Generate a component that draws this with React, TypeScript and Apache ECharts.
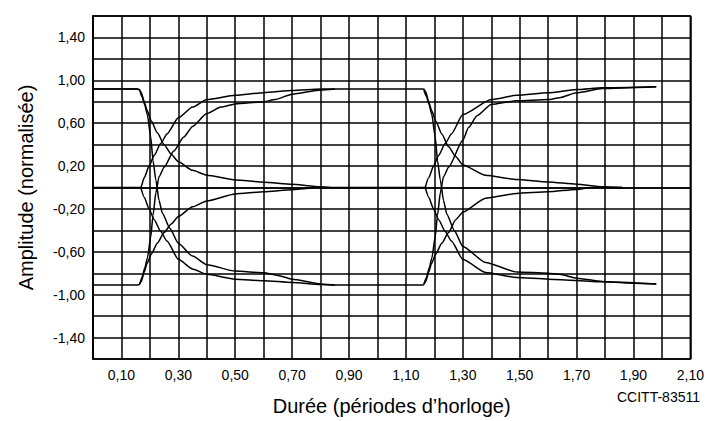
import React, { useEffect, useRef } from "react";
import * as echarts from "echarts";

// Tick labels shown on the axes
const xLabelValues = [0.1, 0.3, 0.5, 0.7, 0.9, 1.1, 1.3, 1.5, 1.7, 1.9, 2.1];
const yLabelValues = [-1.4, -1.0, -0.6, -0.2, 0.2, 0.6, 1.0, 1.4];

// Period 1 transitions (time in clock periods, normalised amplitude)
const fallToZero1: [number, number][] = [
  [0, 0.92], [0.155, 0.92], [0.163, 0.915], [0.17, 0.885], [0.18, 0.8], [0.19, 0.72],
  [0.205, 0.62], [0.226, 0.51], [0.25, 0.4], [0.275, 0.31], [0.3, 0.24], [0.35, 0.16],
  [0.4, 0.115], [0.5, 0.07], [0.6, 0.05], [0.7, 0.03], [0.78, 0.01], [0.85, 0], [1.168, 0],
];
const fallToLow1: [number, number][] = [
  [0, 0.92], [0.155, 0.92], [0.163, 0.91], [0.172, 0.85], [0.182, 0.77], [0.191, 0.68],
  [0.203, 0.47], [0.211, 0.25], [0.221, 0.07], [0.232, -0.12], [0.244, -0.24], [0.27, -0.38],
  [0.3, -0.52], [0.35, -0.64], [0.4, -0.72], [0.5, -0.78], [0.6, -0.795], [0.65, -0.82],
  [0.7, -0.855], [0.8, -0.9], [0.85, -0.91], [1.163, -0.91],
];
const zeroToHigh1: [number, number][] = [
  [0, 0], [0.168, 0], [0.18, 0.09], [0.197, 0.2], [0.215, 0.3], [0.238, 0.41], [0.26, 0.5],
  [0.3, 0.65], [0.35, 0.75], [0.4, 0.82], [0.5, 0.86], [0.6, 0.885], [0.7, 0.905],
  [0.8, 0.92], [1.163, 0.92],
];
const zeroToLow1: [number, number][] = [
  [0.168, 0], [0.18, -0.09], [0.197, -0.2], [0.215, -0.3], [0.238, -0.41], [0.26, -0.5],
  [0.3, -0.67], [0.35, -0.76], [0.4, -0.81], [0.5, -0.855], [0.6, -0.87], [0.7, -0.886],
  [0.8, -0.905], [0.85, -0.91],
];
const lowToHigh1: [number, number][] = [
  [0, -0.91], [0.155, -0.91], [0.163, -0.905], [0.172, -0.84], [0.182, -0.75], [0.191, -0.66],
  [0.203, -0.46], [0.211, -0.26], [0.221, -0.05], [0.232, 0.1], [0.25, 0.19], [0.284, 0.34],
  [0.319, 0.47], [0.35, 0.57], [0.4, 0.69], [0.45, 0.75], [0.5, 0.78], [0.6, 0.8],
  [0.64, 0.82], [0.7, 0.87], [0.8, 0.91], [0.85, 0.92],
];
const lowToZero1: [number, number][] = [
  [0.163, -0.905], [0.17, -0.875], [0.18, -0.79], [0.19, -0.71], [0.205, -0.62], [0.226, -0.52],
  [0.25, -0.42], [0.275, -0.34], [0.3, -0.27], [0.35, -0.18], [0.4, -0.125], [0.5, -0.06],
  [0.6, -0.04], [0.7, -0.02], [0.78, 0.0],
];

// Period 2 transitions
const fallToZero2: [number, number][] = [
  [1.163, 0.92], [1.17, 0.89], [1.18, 0.8], [1.19, 0.72], [1.205, 0.62], [1.226, 0.5],
  [1.25, 0.38], [1.275, 0.29], [1.3, 0.21], [1.38, 0.114], [1.49, 0.074], [1.6, 0.052],
  [1.7, 0.031], [1.79, 0.006], [1.86, 0.0],
];
const fallToLow2: [number, number][] = [
  [1.163, 0.91], [1.172, 0.85], [1.182, 0.77], [1.191, 0.68], [1.203, 0.47], [1.211, 0.25],
  [1.221, 0.07], [1.232, -0.12], [1.244, -0.25], [1.27, -0.4], [1.3, -0.55], [1.38, -0.7],
  [1.49, -0.788], [1.6, -0.8], [1.64, -0.81], [1.7, -0.846], [1.79, -0.877], [1.88, -0.89],
  [1.98, -0.9],
];
const zeroToHigh2: [number, number][] = [
  [1.168, 0], [1.18, 0.09], [1.197, 0.2], [1.215, 0.3], [1.238, 0.41], [1.26, 0.5],
  [1.3, 0.68], [1.4, 0.82], [1.49, 0.86], [1.6, 0.883], [1.7, 0.914], [1.79, 0.93], [1.98, 0.94],
];
const zeroToLow2: [number, number][] = [
  [1.168, 0], [1.18, -0.09], [1.197, -0.2], [1.215, -0.3], [1.238, -0.41], [1.26, -0.5],
  [1.3, -0.67], [1.38, -0.794], [1.49, -0.84], [1.6, -0.855], [1.79, -0.88], [1.98, -0.9],
];
const lowToHigh2: [number, number][] = [
  [1.163, -0.905], [1.172, -0.84], [1.182, -0.75], [1.191, -0.66], [1.203, -0.46],
  [1.211, -0.26], [1.221, -0.05], [1.232, 0.1], [1.25, 0.19], [1.3, 0.44], [1.32, 0.56],
  [1.35, 0.67], [1.4, 0.775], [1.49, 0.81], [1.6, 0.82], [1.64, 0.837], [1.7, 0.883],
  [1.79, 0.923], [1.98, 0.94],
];
const lowToZero2: [number, number][] = [
  [1.163, -0.905], [1.17, -0.875], [1.18, -0.79], [1.19, -0.71], [1.205, -0.62], [1.226, -0.52],
  [1.25, -0.42], [1.275, -0.3], [1.3, -0.23], [1.38, -0.1], [1.49, -0.055], [1.6, -0.04],
  [1.7, -0.018], [1.75, 0.0], [1.86, 0.0],
];

const curves = [
  fallToZero1, fallToLow1, zeroToHigh1, zeroToLow1, lowToHigh1, lowToZero1,
  fallToZero2, fallToLow2, zeroToHigh2, zeroToLow2, lowToHigh2, lowToZero2,
];

const FONT = "'Liberation Sans', Arial, sans-serif";
const fmt = (v: number) => v.toFixed(2).replace(".", ",");
const has = (arr: number[], v: number) => arr.some((a) => Math.abs(a - v) < 1e-6);

export default function App() {
  const ref = useRef<HTMLDivElement>(null);
  useEffect(() => {
    if (!ref.current) return;
    const chart = echarts.init(ref.current, null, { renderer: "svg" });
    const gridLine = { show: true, lineStyle: { color: "#000", width: 1.5 } };
    chart.setOption({
      animation: false,
      backgroundColor: "#fff",
      grid: {
        left: 93, right: 10, top: 16, bottom: 59, containLabel: false,
        show: true, borderColor: "#000", borderWidth: 1.6, backgroundColor: "transparent",
      },
      xAxis: {
        type: "value", min: 0, max: 2.1, interval: 0.1,
        axisLine: { show: true, lineStyle: { color: "#000", width: 1.6 } },
        axisTick: { show: false },
        splitLine: gridLine,
        axisLabel: {
          color: "#000", fontFamily: FONT, fontSize: 14, margin: 9,
          formatter: (v: number) => (has(xLabelValues, v) ? fmt(v) : ""),
        },
        name: "Durée (périodes d’horloge)",
        nameLocation: "middle", nameGap: 37,
        nameTextStyle: { color: "#000", fontFamily: FONT, fontSize: 20 },
      },
      yAxis: {
        type: "value", min: -1.6, max: 1.6, interval: 0.2,
        axisLine: { show: true, lineStyle: { color: "#000", width: 1.6 } },
        axisTick: { show: false },
        splitLine: gridLine,
        axisLabel: {
          color: "#000", fontFamily: FONT, fontSize: 14, margin: 8,
          formatter: (v: number) => (has(yLabelValues, v) ? fmt(v) : ""),
        },
        name: "Amplitude (normalisée)",
        nameLocation: "middle", nameGap: 57,
        nameTextStyle: { color: "#000", fontFamily: FONT, fontSize: 20 },
      },
      graphic: [
        {
          type: "text", right: 7, top: 390,
          style: { text: "CCITT-83511", fill: "#000", font: `14px ${FONT}` },
        },
      ],
      series: curves.map((data) => ({
        type: "line", data, symbol: "none", smooth: 0.2, smoothMonotone: "x",
        silent: true, lineStyle: { color: "#000", width: 1.5 },
      })),
    });
    return () => chart.dispose();
  }, []);
  return (
    <div
      ref={ref}
      style={{ position: "absolute", left: 0, top: 0, width: 707, height: 421, background: "#fff" }}
    />
  );
}
